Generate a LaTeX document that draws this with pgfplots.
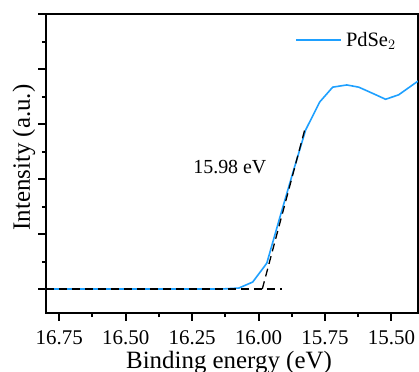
\documentclass[border=0pt]{standalone}
\usepackage{pgfplots}
\pgfplotsset{compat=1.18}
\usepackage{fontspec}
\setmainfont{Liberation Serif}
\definecolor{cblue}{RGB}{30,160,255}
\begin{document}
\begin{tikzpicture}
\begin{axis}[name=ax, scale only axis, width=372bp, height=299bp,
  x dir=reverse, xmin=15.4, xmax=16.8, ymin=-0.436, ymax=5,
  xtick={15.5,15.75,16,16.25,16.5,16.75}, minor x tick num=1,
  ytick={0,1,2,3,4,5}, yticklabels={}, minor y tick num=1,
  tick align=outside, xtick pos=bottom, ytick pos=left,
  major tick length=7.5bp, minor tick length=4bp,
  axis line style={line width=2.6bp},
  every outer x axis line/.append style={line width=2.6bp},
  every outer y axis line/.append style={line width=2.6bp},
  every tick/.style={line width=2bp, black},
  /pgf/number format/assume math mode=true,
  xticklabel={\pgfmathprintnumber[fixed,fixed zerofill,precision=2]{\tick}},
  ticklabel style={font=\fontsize{21}{21}\selectfont},
  xticklabel style={anchor=base, yshift=-24bp},
  xlabel={Binding energy (eV)},
  ylabel={Intensity (a.u.)},
  xlabel style={at={(axis description cs:0.492,0)}, anchor=base, yshift=-55bp, font=\fontsize{25}{25}\selectfont},
  ylabel style={at={(axis description cs:-0.059,0.52)}, anchor=center, font=\fontsize{25}{25}\selectfont},
  legend style={draw=none, fill=none, at={(axis description cs:0.67,0.913)}, anchor=west, font=\fontsize{20.5}{20.5}\selectfont, inner sep=0pt, nodes={inner sep=4bp}},
  legend image code/.code={\draw[#1] (0bp,0bp) -- (45bp,0bp);},
  legend cell align=left,
]
\addplot[cblue, line width=1.6bp] coordinates {
(16.80,0) (16.15,0) (16.12,0.005) (16.074,0.018) (16.022,0.127) (15.969,0.47)
(15.92,1.30) (15.87,2.13) (15.823,2.89) (15.770,3.40) (15.721,3.67) (15.668,3.71)
(15.623,3.67) (15.572,3.56) (15.522,3.45) (15.473,3.53) (15.40,3.78)
};
\addlegendentry{PdSe$_2$}
\addplot[black, line width=1.3bp, dash pattern=on 8bp off 5bp, forget plot] coordinates {(16.80,0) (15.91,0)};
\addplot[black, line width=1.3bp, dash pattern=on 8bp off 5bp, forget plot] coordinates {(15.986,0) (15.826,2.9)};
\node[font=\fontsize{20}{20}\selectfont] at (axis cs:16.108,2.22) {15.98 eV};
\end{axis}
\pgfresetboundingbox
\path[use as bounding box] ([xshift=-46bp,yshift=-59bp]ax.south west) rectangle ([xshift=1bp,yshift=14bp]ax.north east);
\end{tikzpicture}
\end{document}
